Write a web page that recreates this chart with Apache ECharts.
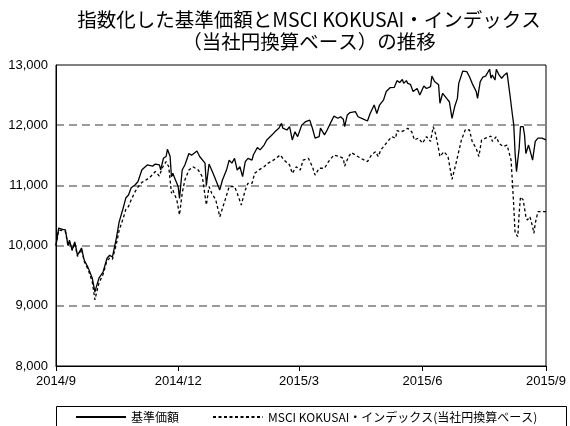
<!DOCTYPE html>
<html>
<head>
<meta charset="utf-8">
<script src="https://cdn.jsdelivr.net/npm/echarts@6/dist/echarts.min.js"></script>
<style>
  html, body { margin: 0; padding: 0; background: #fff; }
  #main { width: 570px; height: 426px; }
</style>
</head>
<body>
<div id="main"></div>
<script>
// tick labels on the date axis
var tickDates = ['2014-09-01', '2014-12-01', '2015-03-01', '2015-06-01', '2015-09-01'];
var tickLabels = ['2014/9', '2014/12', '2015/3', '2015/6', '2015/9'];

// 基準価額 (indexed)
var navDates = [
  '2014-09-01','2014-09-03','2014-09-06','2014-09-08','2014-09-10','2014-09-11','2014-09-13','2014-09-15',
  '2014-09-17','2014-09-20','2014-09-22','2014-09-25','2014-09-28','2014-09-30','2014-10-01','2014-10-03',
  '2014-10-06','2014-10-09','2014-10-11','2014-10-13','2014-10-16','2014-10-18','2014-10-21','2014-10-23',
  '2014-10-25','2014-10-27','2014-10-30','2014-11-01','2014-11-04','2014-11-08','2014-11-09','2014-11-12',
  '2014-11-14','2014-11-17','2014-11-18','2014-11-20','2014-11-22','2014-11-23','2014-11-25','2014-11-26',
  '2014-11-27','2014-11-29','2014-12-01','2014-12-02','2014-12-04','2014-12-06','2014-12-09','2014-12-11',
  '2014-12-15','2014-12-17','2014-12-21','2014-12-22','2014-12-24','2014-12-27','2014-12-29','2015-01-01',
  '2015-01-03','2015-01-06','2015-01-08','2015-01-10','2015-01-12','2015-01-14','2015-01-16','2015-01-18',
  '2015-01-20','2015-01-22','2015-01-25','2015-01-26','2015-01-29','2015-01-31','2015-02-03','2015-02-05',
  '2015-02-09','2015-02-11','2015-02-14','2015-02-16','2015-02-17','2015-02-20','2015-02-22','2015-02-24',
  '2015-02-26','2015-02-28','2015-03-03','2015-03-06','2015-03-09','2015-03-11','2015-03-13','2015-03-16',
  '2015-03-17','2015-03-20','2015-03-22','2015-03-25','2015-03-27','2015-03-30','2015-04-01','2015-04-03',
  '2015-04-04','2015-04-06','2015-04-08','2015-04-12','2015-04-14','2015-04-18','2015-04-21','2015-04-23',
  '2015-04-26','2015-04-28','2015-04-30','2015-05-03','2015-05-05','2015-05-08','2015-05-11','2015-05-13',
  '2015-05-15','2015-05-17','2015-05-18','2015-05-20','2015-05-21','2015-05-23','2015-05-25','2015-05-28',
  '2015-05-30','2015-06-02','2015-06-04','2015-06-07','2015-06-08','2015-06-10','2015-06-13','2015-06-14',
  '2015-06-16','2015-06-19','2015-06-21','2015-06-23','2015-06-25','2015-06-27','2015-06-28','2015-07-01',
  '2015-07-04','2015-07-06','2015-07-08','2015-07-11','2015-07-12','2015-07-14','2015-07-16','2015-07-18',
  '2015-07-21','2015-07-22','2015-07-23','2015-07-25','2015-07-26','2015-07-28','2015-07-30','2015-08-01',
  '2015-08-03','2015-08-05','2015-08-07','2015-08-08','2015-08-09','2015-08-10','2015-08-12','2015-08-13',
  '2015-08-15','2015-08-16','2015-08-17','2015-08-19','2015-08-20','2015-08-22','2015-08-24','2015-08-26',
  '2015-08-27','2015-08-29','2015-09-01'
];
var navValues = [
  10000,10290,10270,10260,10000,10090,9930,10060,
  9840,9960,9760,9630,9460,9230,9310,9460,
  9560,9790,9840,9810,10130,10390,10620,10790,
  10840,10960,11010,11060,11260,11340,11355,11320,
  11355,11340,11260,11450,11480,11600,11480,11145,
  11200,11090,10980,10785,11255,11340,11530,11500,
  11570,11480,11370,11000,11355,11200,11090,10925,
  11090,11255,11420,11370,11450,11255,11310,11145,
  11395,11450,11420,11505,11630,11590,11670,11755,
  11840,11890,11950,12030,11950,11920,11975,11755,
  11890,11810,12000,12060,12085,11950,11785,11810,
  11950,11840,11920,12060,12150,12115,12140,12100,
  11975,12170,12210,12225,12140,12100,12070,12195,
  12335,12195,12335,12420,12560,12625,12630,12740,
  12710,12760,12695,12740,12695,12680,12560,12610,
  12500,12650,12610,12640,12815,12725,12670,12365,
  12530,12445,12390,12115,12310,12445,12695,12900,
  12890,12805,12695,12560,12445,12725,12800,12815,
  12930,12780,12835,12750,12930,12835,12780,12835,
  12870,12530,12170,12000,11530,11230,11615,11975,
  11975,11840,11530,11670,11590,11420,11730,11785,
  11810,11785,11755
];

// MSCI KOKUSAI (yen, indexed)
var msciDates = [
  '2014-09-01','2014-09-03','2014-09-06','2014-09-08','2014-09-10','2014-09-11','2014-09-13','2014-09-15',
  '2014-09-17','2014-09-20','2014-09-22','2014-09-25','2014-09-28','2014-09-30','2014-10-01','2014-10-03',
  '2014-10-06','2014-10-09','2014-10-11','2014-10-13','2014-10-16','2014-10-18','2014-10-21','2014-10-23',
  '2014-10-25','2014-10-27','2014-10-30','2014-11-01','2014-11-04','2014-11-07','2014-11-10','2014-11-14',
  '2014-11-17','2014-11-19','2014-11-22','2014-11-24','2014-11-26','2014-11-27','2014-11-30','2014-12-02',
  '2014-12-04','2014-12-06','2014-12-09','2014-12-12','2014-12-16','2014-12-19','2014-12-22','2014-12-24',
  '2014-12-26','2014-12-29','2015-01-01','2015-01-05','2015-01-08','2015-01-12','2015-01-14','2015-01-17',
  '2015-01-20','2015-01-22','2015-01-25','2015-01-27','2015-01-30','2015-02-03','2015-02-06','2015-02-10',
  '2015-02-15','2015-02-18','2015-02-22','2015-02-24','2015-02-27','2015-03-02','2015-03-04','2015-03-08',
  '2015-03-11','2015-03-13','2015-03-16','2015-03-20','2015-03-23','2015-03-27','2015-03-31','2015-04-03',
  '2015-04-04','2015-04-07','2015-04-09','2015-04-12','2015-04-16','2015-04-21','2015-04-24','2015-04-27',
  '2015-04-29','2015-05-01','2015-05-05','2015-05-09','2015-05-12','2015-05-13','2015-05-16','2015-05-19',
  '2015-05-21','2015-05-24','2015-05-26','2015-05-29','2015-06-01','2015-06-04','2015-06-07','2015-06-09',
  '2015-06-11','2015-06-14','2015-06-17','2015-06-20','2015-06-23','2015-06-26','2015-06-30','2015-07-03',
  '2015-07-06','2015-07-08','2015-07-11','2015-07-13','2015-07-15','2015-07-18','2015-07-22','2015-07-23',
  '2015-07-26','2015-07-28','2015-07-31','2015-08-03','2015-08-06','2015-08-07','2015-08-08','2015-08-09',
  '2015-08-11','2015-08-12','2015-08-13','2015-08-15','2015-08-17','2015-08-18','2015-08-20','2015-08-22',
  '2015-08-23','2015-08-24','2015-08-26','2015-09-01'
];
var msciValues = [
  10000,10260,10250,10230,9990,10070,9920,10040,
  9820,9940,9740,9600,9400,9100,9200,9380,
  9520,9750,9790,9770,10030,10250,10450,10600,
  10650,10760,10900,10970,11050,11090,11135,11230,
  11155,11285,11395,11310,10870,10925,10760,10510,
  10870,11090,11255,11310,11255,11145,10675,10980,
  10870,10760,10480,10760,10980,10980,10870,10675,
  10925,11035,11035,11200,11255,11310,11370,11420,
  11505,11420,11340,11200,11310,11255,11420,11450,
  11310,11170,11285,11285,11395,11505,11480,11450,
  11320,11480,11545,11505,11450,11395,11505,11560,
  11480,11590,11700,11810,11785,11910,11890,11920,
  11950,11890,11755,11785,11700,11810,11730,11975,
  11840,11480,11560,11480,11100,11370,11755,11930,
  11920,11730,11615,11480,11755,11785,11820,11730,
  11810,11700,11645,11670,11420,11035,10645,10205,
  10150,10535,10810,10760,10480,10425,10480,10315,
  10205,10370,10565,10565
];

var seriesNames = ['基準価額', 'MSCI KOKUSAI・インデックス(当社円換算ベース)'];

function toTime(s) {
  var p = s.split('-');
  return new Date(+p[0], +p[1] - 1, +p[2]).getTime();
}
function zip(dates, values) {
  return dates.map(function (d, i) { return [toTime(d), values[i]]; });
}
var tickValues = tickDates.map(toTime);

var chartDom = document.getElementById('main');
var myChart = echarts.init(chartDom);

var option = {
  animation: false,
  title: {
    text: '指数化した基準価額とMSCI KOKUSAI・インデックス\n（当社円換算ベース）の推移',
    left: 304,
    top: 4,
    textAlign: 'center',
    textStyle: {
      fontFamily: 'Noto Sans CJK JP',
      fontSize: 19.5,
      fontWeight: 'normal',
      color: '#000',
      lineHeight: 22
    }
  },
  legend: {
    left: 75,
    top: 411,
    padding: 0,
    itemWidth: 50,
    itemHeight: 12,
    itemGap: 33,
    itemStyle: { opacity: 0 },
    textStyle: { fontFamily: 'Noto Sans CJK JP', fontSize: 12, color: '#000' },
    data: seriesNames
  },
  graphic: [
    {
      type: 'rect',
      shape: { x: 56.5, y: 406.5, width: 510, height: 40 },
      style: { fill: 'none', stroke: '#000', lineWidth: 1 },
      silent: true
    }
  ],
  grid: {
    left: 56,
    right: 24,
    top: 65,
    bottom: 60,
    show: true,
    borderColor: '#000',
    borderWidth: 1
  },
  xAxis: {
    type: 'value',
    min: tickValues[0],
    max: tickValues[tickValues.length - 1],
    axisLine: { show: true, lineStyle: { color: '#000', width: 1 } },
    axisTick: {
      show: true,
      customValues: tickValues,
      length: 5,
      lineStyle: { color: '#000' }
    },
    axisLabel: {
      customValues: tickValues,
      margin: 9,
      fontFamily: 'Liberation Sans',
      fontSize: 13,
      color: '#000',
      showMinLabel: true,
      showMaxLabel: true,
      formatter: function (val) {
        var i = tickValues.indexOf(val);
        return i >= 0 ? tickLabels[i] : '';
      }
    },
    splitLine: { show: false }
  },
  yAxis: {
    type: 'value',
    min: 8000,
    max: 13000,
    interval: 1000,
    axisLine: { show: true, lineStyle: { color: '#000', width: 1 } },
    axisTick: { show: false },
    axisLabel: {
      margin: 8,
      fontFamily: 'Liberation Sans',
      fontSize: 13,
      color: '#000',
      formatter: function (v) { return v.toLocaleString('en-US'); }
    },
    splitLine: {
      show: true,
      showMinLine: false,
      showMaxLine: false,
      lineStyle: { color: '#7a7a7a', width: 1.6, type: [8, 5] }
    }
  },
  series: [
    {
      name: seriesNames[0],
      type: 'line',
      symbol: 'none',
      showSymbol: false,
      data: zip(navDates, navValues),
      itemStyle: { color: '#000' },
      lineStyle: { color: '#000', width: 1.3 },
      z: 3
    },
    {
      name: seriesNames[1],
      type: 'line',
      symbol: 'none',
      showSymbol: false,
      data: zip(msciDates, msciValues),
      itemStyle: { color: '#000' },
      lineStyle: { color: '#000', width: 1.3, type: [3, 2.5] },
      z: 2
    }
  ]
};

option && myChart.setOption(option);
</script>
</body>
</html>
